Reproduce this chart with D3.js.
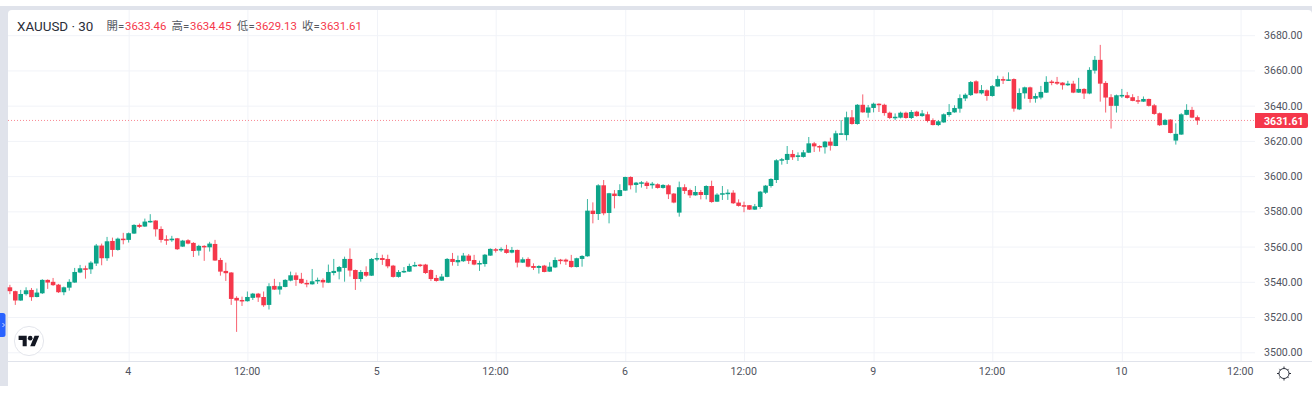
<!DOCTYPE html>
<head>
  <meta charset="utf-8">
  <script src="https://d3js.org/d3.v7.min.js"></script>
<style>
  html,body{margin:0;padding:0;background:#fff;overflow:hidden}
  text{font-family:Roboto,"Noto Sans CJK TC",sans-serif}
  .tick text{fill:#50535e;font-size:10.6px}
  .domain{display:none}
  .grid line{stroke:#f1f3f8}
</style>
</head>

<body>
<script>

var symbolLabel = 'XAUUSD · 30'
var legendNames = ['開','高','低','收']
var lastPrice = 3631.61

var priceTicks = [3500,3520,3540,3560,3580,3600,3620,3640,3660,3680]
// bar index of every label on the time axis
var timeTickBars = [22,44,68,90,114,136,160,182,206,228]
var timeTickLabels = ['4','12:00','5','12:00','6','12:00','9','12:00','10','12:00']

var opens = [
3536.9,3534.7,3529.4,3533.0,3535.4,3531.4,3533.5,3541.1,3540.0,3538.4,
3534.1,3536.7,3539.6,3545.3,3547.7,3547.1,3550.4,3560.6,3553.4,3563.2,
3558.1,3564.5,3563.8,3567.4,3572.3,3571.4,3574.0,3574.8,3570.0,3564.2,
3563.6,3564.7,3560.0,3563.6,3562.1,3557.7,3560.4,3559.6,3561.5,3552.4,
3546.2,3545.3,3530.9,3529.7,3529.0,3530.9,3533.3,3531.4,3526.9,3537.7,
3535.6,3537.1,3540.7,3543.7,3541.7,3539.4,3538.6,3540.3,3541.1,3539.5,
3545.0,3545.8,3547.9,3553.0,3546.7,3541.6,3545.6,3543.5,3553.0,3553.5,
3553.0,3549.2,3542.8,3545.4,3545.8,3549.0,3549.8,3549.8,3546.7,3542.2,
3540.7,3542.8,3553.0,3551.1,3551.7,3554.9,3552.4,3550.0,3550.1,3554.9,
3558.5,3557.9,3558.5,3556.6,3558.1,3550.9,3553.0,3549.0,3547.9,3549.2,
3545.8,3548.2,3552.6,3552.6,3551.9,3548.4,3553.0,3554.5,3580.4,3578.5,
3594.8,3579.1,3590.1,3588.7,3591.8,3599.5,3595.0,3596.3,3596.3,3594.8,
3595.4,3593.3,3594.8,3590.1,3579.3,3593.7,3592.1,3589.1,3591.0,3589.3,
3594.4,3585.5,3589.7,3590.3,3590.6,3585.0,3583.5,3583.5,3581.0,3582.5,
3590.6,3594.4,3597.8,3608.8,3609.2,3612.6,3610.9,3610.9,3613.3,3618.6,
3617.1,3616.4,3619.6,3617.1,3623.9,3623.3,3633.4,3629.6,3640.5,3636.0,
3638.7,3641.1,3640.5,3636.0,3633.4,3633.2,3636.0,3633.0,3636.6,3634.1,
3635.1,3631.8,3629.0,3630.5,3634.7,3636.2,3638.3,3644.1,3646.0,3653.8,
3647.0,3648.7,3645.5,3650.9,3655.1,3654.2,3655.1,3637.9,3647.0,3650.4,
3644.0,3644.6,3647.4,3653.7,3653.5,3653.1,3651.6,3652.5,3647.4,3649.5,
3646.9,3659.9,3666.0,3652.9,3644.8,3639.9,3645.5,3645.9,3644.8,3643.1,
3642.3,3643.8,3640.2,3635.7,3629.1,3632.1,3620.2,3623.6,3634.8,3637.6,
3633.46]

var highs = [
3538.3,3535.0,3535.4,3536.9,3536.5,3536.2,3541.5,3541.4,3542.2,3538.8,
3537.3,3541.5,3547.9,3549.6,3549.2,3551.7,3561.5,3561.7,3565.5,3565.1,
3565.1,3567.8,3568.0,3572.7,3573.1,3575.9,3578.4,3575.0,3571.5,3566.4,
3566.1,3564.9,3563.8,3564.2,3562.5,3561.0,3560.8,3562.7,3563.8,3553.6,
3550.9,3545.5,3531.8,3531.6,3534.5,3533.7,3533.7,3534.5,3539.2,3541.7,
3539.8,3541.5,3545.8,3545.3,3545.1,3541.1,3547.3,3542.4,3542.0,3549.8,
3553.0,3549.0,3554.3,3559.0,3547.0,3546.7,3548.8,3553.5,3556.4,3555.4,
3555.4,3549.6,3546.7,3548.4,3550.3,3551.3,3550.2,3550.2,3547.1,3543.9,
3544.5,3553.5,3556.4,3554.9,3556.4,3555.8,3555.3,3552.0,3555.8,3559.0,
3559.2,3559.6,3561.0,3559.8,3558.3,3553.9,3553.9,3550.5,3549.4,3549.6,
3551.1,3553.9,3553.0,3553.2,3555.3,3553.7,3555.1,3587.0,3585.1,3595.4,
3597.8,3590.5,3592.1,3595.4,3599.7,3599.9,3596.7,3597.2,3597.2,3596.7,
3595.9,3595.4,3595.4,3590.4,3596.9,3595.4,3592.9,3594.4,3592.1,3594.8,
3597.4,3590.3,3594.4,3592.5,3592.0,3586.8,3585.5,3583.6,3584.2,3591.6,
3595.0,3598.8,3609.6,3610.3,3617.1,3614.8,3613.5,3614.8,3622.2,3619.4,
3617.5,3620.0,3621.8,3625.8,3631.8,3636.6,3637.5,3640.9,3646.4,3640.4,
3641.7,3641.3,3641.1,3636.6,3635.6,3636.6,3636.6,3637.5,3637.1,3637.5,
3636.6,3632.8,3631.8,3635.6,3640.9,3640.2,3646.4,3647.0,3654.0,3654.4,
3651.7,3649.2,3651.7,3657.0,3656.6,3658.9,3655.5,3649.8,3650.8,3650.8,
3647.0,3651.2,3656.7,3654.6,3656.3,3653.3,3654.1,3654.1,3655.8,3649.9,
3661.8,3668.2,3674.5,3653.9,3646.5,3646.3,3649.5,3647.8,3646.5,3645.5,
3645.2,3644.0,3641.0,3636.1,3632.5,3632.3,3630.0,3635.7,3640.8,3639.3,
3634.45]

var lows = [
3533.0,3526.9,3529.2,3532.2,3529.2,3531.2,3533.1,3536.0,3537.7,3533.7,
3532.4,3535.0,3539.4,3544.9,3541.8,3544.5,3549.0,3549.4,3551.9,3554.3,
3557.7,3561.3,3562.3,3567.2,3570.6,3571.2,3573.6,3565.7,3562.3,3561.0,
3562.7,3558.1,3559.8,3561.3,3554.1,3554.9,3551.9,3557.2,3551.9,3543.5,
3540.5,3526.9,3511.6,3526.3,3528.8,3529.7,3528.6,3525.8,3524.3,3535.4,
3532.8,3536.9,3540.3,3537.7,3538.8,3536.9,3538.4,3538.8,3536.7,3539.3,
3543.7,3541.4,3540.1,3543.0,3535.4,3540.1,3542.8,3543.3,3551.7,3549.6,
3547.7,3542.4,3542.4,3545.0,3545.6,3548.6,3548.4,3544.5,3540.5,3540.1,
3540.5,3542.6,3549.2,3549.0,3551.3,3550.1,3549.4,3546.2,3548.6,3554.7,
3556.6,3557.0,3556.0,3556.2,3548.2,3550.7,3548.2,3546.7,3544.7,3545.4,
3545.6,3547.9,3550.0,3549.6,3548.0,3548.2,3548.6,3554.3,3573.2,3575.1,
3577.8,3573.2,3581.7,3588.5,3591.6,3592.5,3590.6,3593.5,3592.7,3592.9,
3592.9,3592.9,3587.0,3584.6,3577.0,3589.9,3587.6,3588.9,3586.8,3586.8,
3584.9,3585.3,3586.5,3586.5,3584.2,3582.7,3579.5,3580.8,3580.8,3581.5,
3589.9,3593.5,3596.1,3606.5,3606.9,3609.2,3608.6,3610.5,3613.1,3613.7,
3613.9,3612.8,3614.5,3617.0,3623.5,3620.3,3629.2,3629.2,3636.0,3633.2,
3636.2,3636.4,3634.3,3632.4,3631.8,3632.8,3632.6,3632.4,3633.7,3633.7,
3630.5,3628.8,3628.4,3630.3,3633.7,3636.0,3636.0,3642.6,3645.5,3646.8,
3646.4,3642.8,3645.1,3650.8,3652.3,3654.0,3636.6,3637.5,3644.0,3641.7,
3641.7,3643.6,3647.2,3651.6,3651.8,3649.1,3651.2,3647.1,3647.2,3643.8,
3646.5,3658.2,3642.3,3636.1,3627.0,3636.1,3644.4,3644.0,3642.5,3641.0,
3642.1,3639.5,3634.8,3628.5,3628.9,3624.3,3617.9,3623.4,3634.6,3632.9,
3629.13]

var closes = [
3534.7,3529.4,3533.1,3535.2,3531.3,3533.9,3541.1,3539.6,3538.1,3534.1,
3536.9,3540.0,3545.6,3547.7,3546.8,3550.9,3560.6,3553.4,3563.0,3558.1,
3564.5,3563.8,3567.6,3572.3,3571.2,3574.2,3574.6,3569.8,3563.8,3563.4,
3564.5,3558.5,3563.4,3561.7,3557.5,3560.4,3559.6,3561.7,3552.1,3545.8,
3544.9,3530.3,3529.4,3529.0,3531.4,3533.3,3531.1,3526.7,3537.5,3535.6,
3537.5,3541.1,3543.7,3541.1,3539.2,3539.0,3540.3,3541.1,3539.7,3545.6,
3546.2,3548.4,3553.0,3546.4,3541.6,3545.6,3543.5,3553.0,3553.5,3552.4,
3548.8,3542.8,3545.6,3546.2,3549.0,3549.6,3549.0,3545.0,3541.6,3540.5,
3543.0,3553.0,3551.3,3552.4,3554.9,3551.9,3549.8,3550.7,3555.4,3558.7,
3557.7,3558.7,3556.4,3558.1,3550.9,3552.8,3548.6,3547.9,3549.0,3545.6,
3548.6,3552.4,3552.0,3551.5,3548.4,3553.4,3554.7,3580.4,3578.5,3594.8,
3578.9,3590.3,3588.7,3592.1,3599.5,3594.8,3596.3,3596.5,3594.4,3595.7,
3593.3,3595.0,3589.7,3585.0,3593.7,3591.6,3589.1,3591.0,3589.3,3594.4,
3585.3,3589.5,3590.3,3590.6,3584.6,3583.1,3583.1,3581.0,3582.9,3591.2,
3594.6,3598.4,3609.0,3609.6,3612.6,3610.7,3611.8,3613.5,3618.6,3616.9,
3616.4,3619.6,3617.3,3624.3,3624.3,3633.4,3629.6,3640.5,3636.2,3639.0,
3641.1,3640.4,3635.8,3633.0,3633.7,3636.0,3633.0,3636.4,3634.1,3635.6,
3631.3,3629.0,3631.1,3635.1,3636.4,3638.7,3644.3,3646.2,3653.4,3647.0,
3648.9,3645.5,3651.1,3655.1,3654.2,3654.9,3638.3,3647.2,3650.4,3643.8,
3645.5,3647.8,3653.5,3652.9,3652.5,3651.6,3652.5,3647.4,3649.5,3646.9,
3660.3,3666.0,3652.5,3644.6,3639.9,3645.9,3646.1,3644.4,3642.7,3642.3,
3643.8,3639.9,3635.3,3628.9,3631.9,3624.5,3624.0,3635.1,3637.6,3633.2,
3631.61]

var upColor = '#0aa489', downColor = '#f5384b', bandColor = '#e0e3eb'
var w = 1316, h = 393
var paneL = 8, paneT = 10, paneR = 1255, axisY = 361.5

var svg = d3.select('body').append('svg').attr('width',w).attr('height',h).style('display','block')

// frame round the widget
svg.append('rect').attr('x',0).attr('y',6).attr('width',1312).attr('height',380).attr('fill',bandColor)
svg.append('rect').attr('x',paneL).attr('y',paneT).attr('width',1312-paneL).attr('height',h-paneT).attr('rx',4).attr('fill','#fff')
svg.append('rect').attr('x',0).attr('y',386).attr('width',w).attr('height',7).attr('fill','#fff')

var x = d3.scaleLinear().domain([0,228]).range([9.9,1240.6])
var y = d3.scaleLinear().domain([3500,3680]).range([352.3,35.2])

var yAxis = d3.axisRight(y).tickValues(priceTicks).tickFormat(d3.format('.2f')).tickSize(-(paneR-paneL)).tickPadding(9)
svg.append('g').attr('class','grid').attr('transform','translate('+paneR+',0)').call(yAxis)

var xAxis = d3.axisBottom(x).tickValues(timeTickBars).tickFormat((d,i)=>timeTickLabels[i]).tickSize(-(axisY-paneT)).tickPadding(6)
var xg = svg.append('g').attr('class','grid').attr('transform','translate(0,'+axisY+')').call(xAxis)
xg.selectAll('text').attr('dx',-.8)

svg.append('line').attr('x1',paneL).attr('x2',1312).attr('y1',axisY).attr('y2',axisY).attr('stroke','#e0e3eb')

// last price line under the candles
svg.append('line').attr('x1',paneL).attr('x2',paneR).attr('y1',y(lastPrice)).attr('y2',y(lastPrice))
  .attr('stroke',downColor).attr('stroke-opacity',.6).attr('stroke-dasharray','1 2')

var defs = svg.append('defs')
defs.append('filter').attr('id','soft').attr('x','-5%').attr('y','-5%').attr('width','110%').attr('height','110%')
  .append('feGaussianBlur').attr('stdDeviation',.35)

var candles = svg.append('g').attr('filter','url(#soft)').selectAll('g').data(opens).enter().append('g')
  .attr('fill',(d,i)=>closes[i]>=d?upColor:downColor)
  .attr('stroke',(d,i)=>closes[i]>=d?upColor:downColor)

candles.append('line')
  .attr('x1',(d,i)=>x(i)).attr('x2',(d,i)=>x(i))
  .attr('y1',(d,i)=>y(highs[i])).attr('y2',(d,i)=>y(lows[i]))
  .attr('stroke-width',1).attr('stroke-opacity',.8)

candles.append('rect')
  .attr('x',(d,i)=>x(i)-2.3).attr('width',4.6)
  .attr('y',(d,i)=>y(Math.max(d,closes[i])))
  .attr('height',(d,i)=>Math.max(1.5,Math.abs(y(d)-y(closes[i]))))
  .attr('stroke','none')

// price tag
var tagY = y(lastPrice)
svg.append('path').attr('fill',downColor)
  .attr('d','M'+paneR+' '+(tagY-7.5)+'H1306a2 2 0 0 1 2 2V'+(tagY+5.5)+'a2 2 0 0 1 -2 2H'+paneR+'Z')
svg.append('text').attr('x',1264).attr('y',tagY+.5).attr('dy','.35em')
  .attr('fill','#fff').attr('font-size','10.6px').attr('font-weight',700).text(d3.format('.2f')(lastPrice))

// legend
svg.append('text').attr('x',17).attr('y',30.5).attr('fill','#2a2e39').attr('font-size','13.4px').text(symbolLabel)
var legendVals = [opens[220],highs[220],lows[220],closes[220]]
var legendX = [106.5,171.5,237,302]
legendNames.forEach(function(n,i){
  svg.append('text').attr('x',legendX[i]).attr('y',30).attr('fill','#55585f').attr('font-size','11.4px').text(n+'=')
  svg.append('text').attr('x',legendX[i]+18.5).attr('y',30).attr('fill',downColor).attr('font-size','11.4px').text(d3.format('.2f')(legendVals[i]))
})

// logo
svg.append('circle').attr('cx',29).attr('cy',341).attr('r',14.6).attr('fill','#fff').attr('stroke','#e4e6ec')
var logo = svg.append('g').attr('transform','translate(18.6,333.5) scale(.58)').attr('fill','#131722')
logo.append('path').attr('d','M14 22H7V11H0V4h14v18zM28 22h-8l7.5-18h8L28 22z')
logo.append('circle').attr('cx',20).attr('cy',8).attr('r',4)

// collapsed side tab
svg.append('path').attr('fill','#2962ff').attr('d','M0 313H3a2.5 2.5 0 0 1 2.5 2.5V334.5a2.5 2.5 0 0 1 -2.5 2.5H0Z')
svg.append('path').attr('fill','none').attr('stroke','#fff').attr('stroke-width',.8).attr('d','M2.5 323l2 2-2 2')

// settings icon
var gear = svg.append('g').attr('transform','translate(1284,373.5)').attr('fill','none').attr('stroke','#2a2e39').attr('stroke-width',1)
gear.append('circle').attr('r',5)
gear.append('path').attr('d','M0 -7V-5M0 5V7M-7 0H-5M5 0H7M-4.6 -4.6L-3.5 -3.5M4.6 -4.6L3.5 -3.5M-4.6 4.6L-3.5 3.5M4.6 4.6L3.5 3.5')

</script>
</body>
